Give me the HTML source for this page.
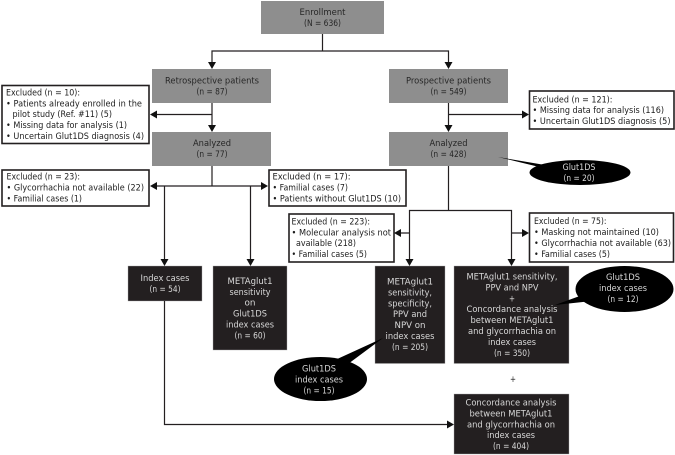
<!DOCTYPE html>
<html><head><meta charset="utf-8"><style>
html,body{margin:0;padding:0;background:#fff;width:675px;height:455px;overflow:hidden}
svg{display:block}
text{font-family:"DejaVu Sans",sans-serif;font-size:9px}
.c text{text-anchor:middle}
.g text{fill:#262626}
.d text{fill:#d8d8d8}
</style></head><body>
<svg width="675" height="455" viewBox="0 0 675 455" xmlns="http://www.w3.org/2000/svg">
<rect width="675" height="455" fill="#fff"/>
<g fill="#8e8e8e">
<rect x="261" y="1" width="123" height="33"/>
<rect x="152" y="69" width="119" height="34"/>
<rect x="152" y="132" width="119" height="34"/>
<rect x="389" y="69" width="119" height="34"/>
<rect x="389" y="132" width="119" height="34"/>
</g>
<g fill="#231f20" stroke="#aaa" stroke-width=".4">
<rect x="128" y="266" width="74" height="35"/>
<rect x="213" y="266" width="74" height="84"/>
<rect x="375" y="266" width="70" height="97.500"/>
<rect x="454" y="266" width="115" height="97.500"/>
<rect x="454" y="394" width="115" height="60"/>
</g>
<g fill="#fff" stroke="#231f20" stroke-width="1.600">
<rect x="2" y="85.500" width="147" height="58"/>
<rect x="2" y="170" width="147" height="36"/>
<rect x="269" y="170" width="137" height="36"/>
<rect x="289" y="214" width="105" height="48"/>
<rect x="529.500" y="91" width="144.500" height="38"/>
<rect x="529.500" y="213" width="144" height="49"/>
</g>
<g fill="none" stroke="#231f20" stroke-width="1.200">
<path d="M322.500 34V51M212 64V51H448.500V64"/>
<path d="M212 103V127M212 114.500H155"/>
<path d="M448.500 103V127M448.500 114.500H524"/>
<path d="M212 166V186M155 186H263M164.500 186V261M250.500 186V261"/>
<path d="M448.500 166V210.500M409.500 261V210.500H511.500V261M409.500 233H400M511.500 233H524"/>
<path d="M164.500 301V424.500H448"/>
</g>
<g fill="#111">
<path d="M208 62h8l-4 7zM444.500 62h8l-4 7zM208 125h8l-4 7zM444.500 125h8l-4 7z"/>
<path d="M157 110.500v8l-7-4z"/>
<path d="M522 110.500v8l7-4z"/>
<path d="M157 182v8l-7-4zM261 182v8l7-4z"/>
<path d="M160.500 259h8l-4 7zM246.500 259h8l-4 7zM405.500 259h8l-4 7zM507.500 259h8l-4 7z"/>
<path d="M401 229v8l-7-4zM522 229v8l7-4z"/>
<path d="M447 420.500v8l7-4z"/>
</g>
<g fill="#000">
<ellipse cx="580" cy="172.500" rx="50.500" ry="12.500"/>
<path d="M498 157L545 165L560 172Z"/>
<ellipse cx="624.500" cy="289" rx="49" ry="23"/>
<path d="M555 305L588 293L592 301Z"/>
<ellipse cx="320.500" cy="379" rx="46.500" ry="22"/>
<path d="M383 338L335 360L348 364Z"/>
</g>

<g class="c g">
<text x="322.500" y="15" textLength="46" lengthAdjust="spacingAndGlyphs">Enrollment</text>
<text x="322.500" y="26" textLength="37" lengthAdjust="spacingAndGlyphs">(N = 636)</text>
<text x="212" y="83.500" textLength="94" lengthAdjust="spacingAndGlyphs">Retrospective patients</text>
<text x="212" y="94.500" textLength="31" lengthAdjust="spacingAndGlyphs">(n = 87)</text>
<text x="212" y="146" textLength="38" lengthAdjust="spacingAndGlyphs">Analyzed</text>
<text x="212" y="157" textLength="31" lengthAdjust="spacingAndGlyphs">(n = 77)</text>
<text x="448.500" y="83.500" textLength="85" lengthAdjust="spacingAndGlyphs">Prospective patients</text>
<text x="448.500" y="94.500" textLength="36" lengthAdjust="spacingAndGlyphs">(n = 549)</text>
<text x="448.500" y="146" textLength="38" lengthAdjust="spacingAndGlyphs">Analyzed</text>
<text x="448.500" y="157" textLength="36" lengthAdjust="spacingAndGlyphs">(n = 428)</text>
<text x="513" y="382" textLength="6" lengthAdjust="spacingAndGlyphs">+</text>
</g>

<g class="c d">
<text x="579" y="170" textLength="33" lengthAdjust="spacingAndGlyphs">Glut1DS</text>
<text x="579" y="181" textLength="31" lengthAdjust="spacingAndGlyphs">(n = 20)</text>

<text x="165" y="281" textLength="49" lengthAdjust="spacingAndGlyphs">Index cases</text>
<text x="165" y="292" textLength="31" lengthAdjust="spacingAndGlyphs">(n = 54)</text>

<text x="250" y="284" textLength="45" lengthAdjust="spacingAndGlyphs">METAglut1</text>
<text x="250" y="295" textLength="41" lengthAdjust="spacingAndGlyphs">sensitivity</text>
<text x="250" y="305.500" textLength="11" lengthAdjust="spacingAndGlyphs">on</text>
<text x="250" y="316.500" textLength="34" lengthAdjust="spacingAndGlyphs">Glut1DS</text>
<text x="250" y="327.500" textLength="48" lengthAdjust="spacingAndGlyphs">index cases</text>
<text x="250" y="338.500" textLength="31" lengthAdjust="spacingAndGlyphs">(n = 60)</text>

<text x="410" y="284.500" textLength="46" lengthAdjust="spacingAndGlyphs">METAglut1</text>
<text x="410" y="295.500" textLength="44" lengthAdjust="spacingAndGlyphs">sensitivity,</text>
<text x="410" y="306.300" textLength="44" lengthAdjust="spacingAndGlyphs">specificity,</text>
<text x="410" y="317" textLength="34" lengthAdjust="spacingAndGlyphs">PPV and</text>
<text x="410" y="328" textLength="31" lengthAdjust="spacingAndGlyphs">NPV on</text>
<text x="410" y="339" textLength="49" lengthAdjust="spacingAndGlyphs">index cases</text>
<text x="410" y="350" textLength="36" lengthAdjust="spacingAndGlyphs">(n = 205)</text>

<text x="512" y="279.500" textLength="91" lengthAdjust="spacingAndGlyphs">METAglut1 sensitivity,</text>
<text x="512" y="290.500" textLength="53" lengthAdjust="spacingAndGlyphs">PPV and NPV</text>
<text x="512" y="301.500" textLength="6" lengthAdjust="spacingAndGlyphs">+</text>
<text x="512" y="312" textLength="91" lengthAdjust="spacingAndGlyphs">Concordance analysis</text>
<text x="512" y="323" textLength="83" lengthAdjust="spacingAndGlyphs">between METAglut1</text>
<text x="512" y="334" textLength="88" lengthAdjust="spacingAndGlyphs">and glycorrhachia on</text>
<text x="512" y="345" textLength="48" lengthAdjust="spacingAndGlyphs">index cases</text>
<text x="512" y="356" textLength="36" lengthAdjust="spacingAndGlyphs">(n = 350)</text>

<text x="511" y="405.500" textLength="91" lengthAdjust="spacingAndGlyphs">Concordance analysis</text>
<text x="511" y="416.500" textLength="83" lengthAdjust="spacingAndGlyphs">between METAglut1</text>
<text x="511" y="427.500" textLength="88" lengthAdjust="spacingAndGlyphs">and glycorrhachia on</text>
<text x="511" y="438" textLength="48" lengthAdjust="spacingAndGlyphs">index cases</text>
<text x="511" y="449" textLength="36" lengthAdjust="spacingAndGlyphs">(n = 404)</text>

<text x="623" y="280" textLength="34" lengthAdjust="spacingAndGlyphs">Glut1DS</text>
<text x="623" y="291" textLength="48" lengthAdjust="spacingAndGlyphs">index cases</text>
<text x="623" y="302" textLength="31" lengthAdjust="spacingAndGlyphs">(n = 12)</text>

<text x="319" y="371.500" textLength="34" lengthAdjust="spacingAndGlyphs">Glut1DS</text>
<text x="319" y="382.500" textLength="48" lengthAdjust="spacingAndGlyphs">index cases</text>
<text x="319" y="393.500" textLength="31" lengthAdjust="spacingAndGlyphs">(n = 15)</text>
</g>

<g fill="#1c1c1c">
<text x="6" y="95.500" textLength="74" lengthAdjust="spacingAndGlyphs">Excluded (n = 10):</text>
<text x="6" y="106.300" textLength="136" lengthAdjust="spacingAndGlyphs">• Patients already enrolled in the</text>
<text x="12.500" y="117.200" textLength="99.500" lengthAdjust="spacingAndGlyphs">pilot study (Ref. #11) (5)</text>
<text x="6" y="128" textLength="121" lengthAdjust="spacingAndGlyphs">• Missing data for analysis (1)</text>
<text x="6" y="139" textLength="138" lengthAdjust="spacingAndGlyphs">• Uncertain Glut1DS diagnosis (4)</text>

<text x="6.500" y="179.500" textLength="73.500" lengthAdjust="spacingAndGlyphs">Excluded (n = 23):</text>
<text x="6.500" y="190.500" textLength="137.500" lengthAdjust="spacingAndGlyphs">• Glycorrhachia not available (22)</text>
<text x="6.500" y="201.500" textLength="75.500" lengthAdjust="spacingAndGlyphs">• Familial cases (1)</text>

<text x="272.500" y="179.500" textLength="78" lengthAdjust="spacingAndGlyphs">Excluded (n = 17):</text>
<text x="272.500" y="190.500" textLength="75.500" lengthAdjust="spacingAndGlyphs">• Familial cases (7)</text>
<text x="272.500" y="201.500" textLength="128.500" lengthAdjust="spacingAndGlyphs">• Patients without Glut1DS (10)</text>

<text x="291.500" y="224.500" textLength="78.500" lengthAdjust="spacingAndGlyphs">Excluded (n = 223):</text>
<text x="291.500" y="235.500" textLength="99.500" lengthAdjust="spacingAndGlyphs">• Molecular analysis not</text>
<text x="296" y="246" textLength="60" lengthAdjust="spacingAndGlyphs">available (218)</text>
<text x="291.500" y="257" textLength="75.500" lengthAdjust="spacingAndGlyphs">• Familial cases (5)</text>

<text x="532.500" y="102.500" textLength="80" lengthAdjust="spacingAndGlyphs">Excluded (n = 121):</text>
<text x="532.500" y="113" textLength="131.500" lengthAdjust="spacingAndGlyphs">• Missing data for analysis (116)</text>
<text x="532.500" y="124" textLength="138" lengthAdjust="spacingAndGlyphs">• Uncertain Glut1DS diagnosis (5)</text>

<text x="534" y="224" textLength="72.500" lengthAdjust="spacingAndGlyphs">Excluded (n = 75):</text>
<text x="534" y="235" textLength="125" lengthAdjust="spacingAndGlyphs">• Masking not maintained (10)</text>
<text x="534" y="246" textLength="137" lengthAdjust="spacingAndGlyphs">• Glycorrhachia not available (63)</text>
<text x="534" y="257" textLength="76" lengthAdjust="spacingAndGlyphs">• Familial cases (5)</text>
</g>
</svg>
</body></html>
